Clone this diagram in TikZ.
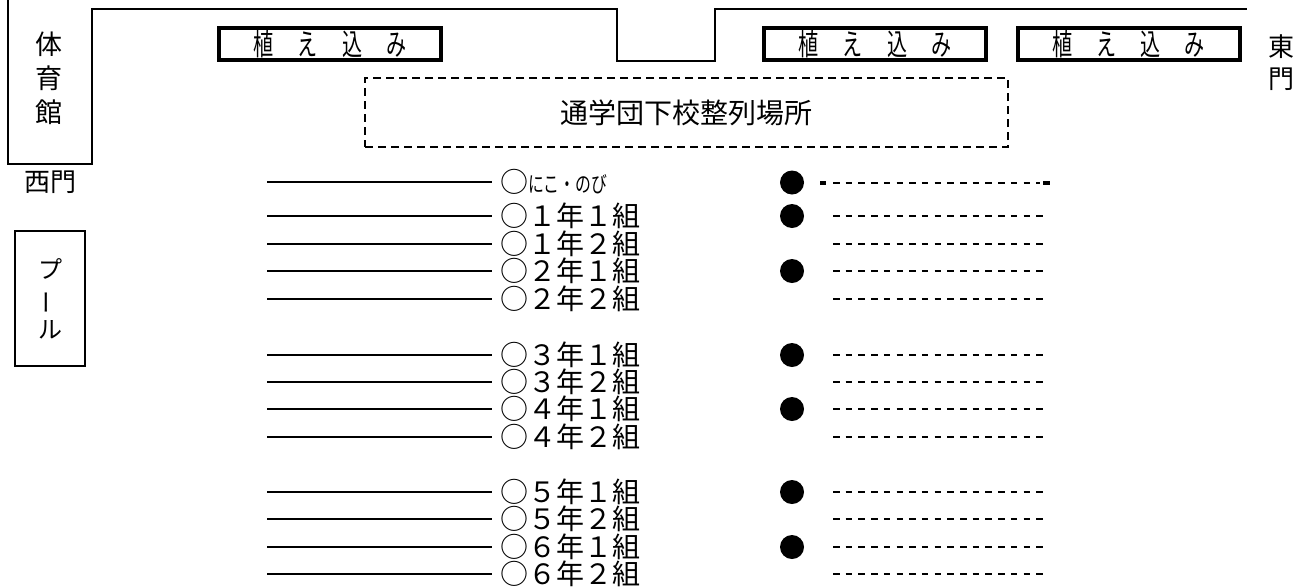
\documentclass[tikz,border=0pt]{standalone}
\usepackage{fontspec}
\setmainfont{Noto Sans CJK JP}
\usepackage{graphicx}
\newcommand{\ring}{\hspace{4pt}○}
\begin{document}
\begin{tikzpicture}[x=1pt,y=-1pt,
        wall/.style={line width=2pt,line join=miter},
        bed/.style={draw,line width=4pt,minimum width=222pt,minimum height=32pt,inner sep=0pt},
        cls/.style={anchor=west,inner ysep=0pt,inner xsep=4pt,font=\fontsize{28}{28}\selectfont},
        dot/.style={circle,fill,minimum size=24pt,inner sep=0pt},
        rowline/.style={line width=2pt},
        queue/.style={line width=2pt,dash pattern=on 6.5pt off 6.2pt}]
    \useasboundingbox (0,0) rectangle (1308,587);
    % gym, outer wall
    \draw[wall] (8,0) -- (8,164) -- (92,164) -- (92,9) -- (617,9) -- (617,61)
        -- (715,61) -- (715,9) -- (1247,9);
    \node[align=center,inner sep=0pt,font=\fontsize{27}{34}\selectfont] (gym) at (49,78) {体\\育\\館};
    \node[font=\fontsize{26}{26}\selectfont] (westgate) at (50,182) {西門};
    \node[draw,line width=1.5pt,minimum width=70pt,minimum height=135pt,inner sep=0pt] (pool) at (50,298.5) {};
    \node[align=center,inner sep=0pt,font=\fontsize{24}{30}\selectfont] (pooltext) at (pool) {プ\\\rotatebox[origin=c]{90}{ー}\\ル};
    \node[align=center,inner sep=0pt,font=\fontsize{26}{32}\selectfont] (eastgate) at (1281,63) {東\\門};
    % planting beds
    \foreach \x/\n in {330/bedA, 875/bedB, 1128.5/bedC}
        \node[bed] (\n) at (\x,44) {\fontsize{30}{30}\selectfont\scalebox{0.67}[1]{植\hspace{36pt}え\hspace{36pt}込\hspace{36pt}み}};
    \node[draw,line width=1.5pt,dash pattern=on 8pt off 5pt,minimum width=643pt,minimum height=69pt,
        font=\fontsize{28}{28}\selectfont] (area) at (686.5,112.5) {通学団下校整列場所};
    % nikonobi row
    \coordinate (lniko) at (267,182);
    \node[cls] (niko) at (492,182) {\ring\fontsize{22}{22}\selectfont\scalebox{0.72}[1]{にこ・のび}};
    \draw[rowline] (lniko) -- (niko.west);
    \node[dot] (dotniko) at (792,182.5) {};
    \coordinate (sniko) at (833,183);
    \coordinate (tniko) at (1040,183);
    \draw[queue] (sniko) -- (tniko);
    \fill (820,181) rectangle (826,185);
    \fill (1043,181) rectangle (1050,185);
    % classes
    \foreach \y/\g/\c/\d/\n in {216/１/１/1/c11, 244/１/２/0/c12, 271/２/１/1/c21, 299/２/２/0/c22,
            355/３/１/1/c31, 382/３/２/0/c32, 409/４/１/1/c41, 437/４/２/0/c42,
            492/５/１/1/c51, 519/５/２/0/c52, 547/６/１/1/c61, 574/６/２/0/c62}{
        \coordinate (l\n) at (267,\y);
        \node[cls] (\n) at (492,\y) {\ring\g 年\c 組};
        \draw[rowline] (l\n) -- (\n.west);
        \ifnum\d=1 \node[dot] (dot\n) at (792,\y) {}; \fi
        \coordinate (s\n) at (833,\y);
        \coordinate (t\n) at (1045,\y);
        \draw[queue] (s\n) -- (t\n);
    }
\end{tikzpicture}
\end{document}
